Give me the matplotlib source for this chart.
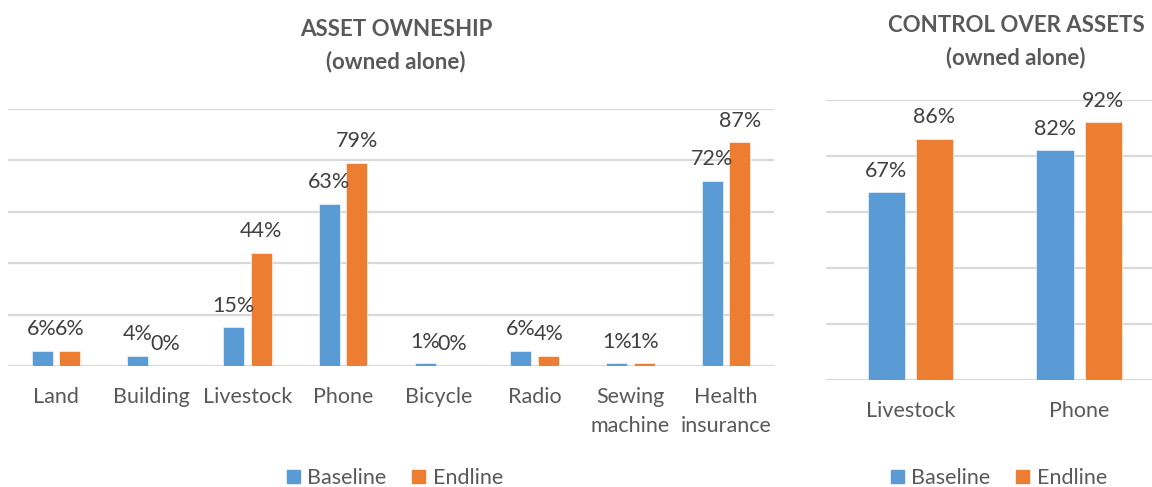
import matplotlib
matplotlib.use("Agg")
import matplotlib.pyplot as plt
from matplotlib.patches import Patch
import numpy as np

plt.rcParams['font.family'] = ['Lato', 'DejaVu Sans']

# data
own_cats = ['Land', 'Building', 'Livestock', 'Phone', 'Bicycle', 'Radio',
            'Sewing\nmachine', 'Health\ninsurance']
own_base = [6, 4, 15, 63, 1, 6, 1, 72]
own_end = [6, 0, 44, 79, 0, 4, 1, 87]

ctrl_cats = ['Livestock', 'Phone']
ctrl_base = [67, 82]
ctrl_end = [86, 92]

BLUE = '#5B9BD5'
ORANGE = '#ED7D31'
GRID = '#D9D9D9'
TXT = '#595959'
LBL = '#404040'

W, H = 1152, 487
fig = plt.figure(figsize=(W / 100, H / 100), dpi=100)


def panel(rect, cats, base, end):
	ax = fig.add_axes(rect)
	x = np.arange(len(cats))
	bw = 0.22
	off = 0.143
	b1 = ax.bar(x - off, base, bw, color=BLUE, edgecolor='white', linewidth=0.4, zorder=3)
	b2 = ax.bar(x + off, end, bw, color=ORANGE, edgecolor='white', linewidth=0.4, zorder=3)
	for bars, vals in ((b1, base), (b2, end)):
		for b, v in zip(bars, vals):
			ax.annotate('%d%%' % v, (b.get_x() + b.get_width() / 2, v),
			            xytext=(0, 8.5), textcoords='offset points',
			            ha='center', va='bottom', fontsize=15.5, color=LBL,
			            annotation_clip=False)
	ax.set_xlim(-0.5, len(cats) - 0.5)
	ax.set_ylim(0, 100)
	ax.set_yticks([0, 20, 40, 60, 80, 100])
	ax.yaxis.grid(True, color=GRID, linewidth=1.6)
	ax.set_axisbelow(True)
	ax.tick_params(axis='y', left=False, labelleft=False)
	ax.set_xticks(x)
	ax.set_xticklabels(cats, fontsize=15.5, color=TXT, linespacing=1.55)
	ax.tick_params(axis='x', length=0, pad=15)
	for s in ax.spines.values():
		s.set_visible(False)
	ax.patch.set_alpha(0)
	return ax


panel([8 / W, 1 - 366 / H, (774 - 8) / W, (366 - 109) / H], own_cats, own_base, own_end)
panel([826 / W, 1 - 380 / H, (1163.5 - 826) / W, (380 - 100) / H], ctrl_cats, ctrl_base, ctrl_end)

# titles
fig.text(396 / W, 1 - 30 / H, 'ASSET OWNESHIP', ha='center', va='center',
         fontsize=16, fontweight='bold', color=TXT)
fig.text(396 / W, 1 - 62 / H, '(owned alone)', ha='center', va='center',
         fontsize=16, fontweight='bold', color=TXT)
fig.text(1016 / W, 1 - 26 / H, 'CONTROL OVER ASSETS', ha='center', va='center',
         fontsize=16, fontweight='bold', color=TXT)
fig.text(1016 / W, 1 - 58 / H, '(owned alone)', ha='center', va='center',
         fontsize=16, fontweight='bold', color=TXT)

# legends
handles = [Patch(color=BLUE, label='Baseline'), Patch(color=ORANGE, label='Endline')]
for cx in (395, 999):
	fig.legend(handles=handles, loc='center', bbox_to_anchor=(cx / W, 1 - 478 / H),
	           ncol=2, frameon=False, fontsize=15.5, labelcolor=TXT,
	           handlelength=0.6, handleheight=0.6, handletextpad=0.35,
	           columnspacing=1.2, borderpad=0)

fig.savefig('out.png', dpi=100, facecolor='white')
